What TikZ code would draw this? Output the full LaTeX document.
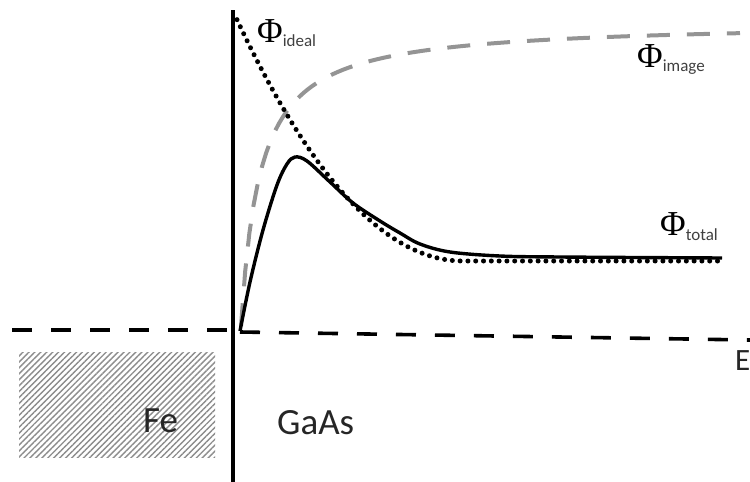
\documentclass[tikz,border=0pt]{standalone}
\usepackage{fontspec}
\setsansfont{Carlito}
\newfontfamily\phifont{Liberation Serif}
\usetikzlibrary{patterns.meta}
\begin{document}
\begin{tikzpicture}[
    x=1pt, y=-1pt,
    axis/.style={line width=3.6pt},
    fermi/.style={line width=3.6pt, dash pattern=on 20pt off 19pt},
    imagecurve/.style={line width=4pt, black!42, dash pattern=on 23pt off 17pt},
    idealcurve/.style={line width=5pt, line cap=round, dash pattern=on 0pt off 7.8pt},
    totalcurve/.style={line width=3.4pt},
    philabel/.style={anchor=base west, inner sep=0pt},
    region/.style={anchor=base west, inner sep=0pt, text=black!85,
      font=\sffamily\fontsize{37}{37}\selectfont}
  ]
  \useasboundingbox (0,0) rectangle (750,482);
  % metal
  \fill[pattern={Lines[angle=45,distance=4.2pt,line width=1.4pt]}, pattern color=black!45]
    (19,352) rectangle (215,457);
  \node[region] (fe) at (143,432) {Fe};
  \node[region] (gaas) at (277,434) {GaAs};
  % interface and Fermi level
  \draw[axis] (233,10) -- (233,482);
  \draw[fermi] (12,330) -- (233,330);
  \draw[fermi] (240,332) -- (750,340);
  \node[region, font=\sffamily\fontsize{31}{31}\selectfont] (ef) at (735,370)
    {E\raisebox{-6pt}{\fontsize{17}{17}\selectfont F}};
  % barriers
  \draw[imagecurve] plot[domain=241:740, samples=120] (\x, {22+5780/(\x-222)});
  \draw[idealcurve] plot[domain=237:462.7, samples=60] (\x, {261-(0.06883*(462.7-\x))^2})
    -- (722,261);
  \draw[totalcurve] plot[smooth, tension=0.55] coordinates {
    (240,331) (250,282) (263,230) (277,185) (287,164) (295,157) (307,161)
    (330,182) (353,203) (380,221) (400,233) (420,244) (450,252) (500,256)
    (560,257) (722,258)};
  % labels
  \node[philabel] (phiideal) at (257,42)
    {{\phifont\fontsize{35}{35}\selectfont Φ}\raisebox{-4pt}{\sffamily\fontsize{17}{17}\selectfont\color{black!75}ideal}};
  \node[philabel] (phiimage) at (637,67)
    {{\phifont\fontsize{35}{35}\selectfont Φ}\raisebox{-4pt}{\sffamily\fontsize{17}{17}\selectfont\color{black!75}image}};
  \node[philabel] (phitotal) at (660,235)
    {{\phifont\fontsize{35}{35}\selectfont Φ}\raisebox{-5pt}{\sffamily\fontsize{17}{17}\selectfont\color{black!75}total}};
\end{tikzpicture}
\end{document}
